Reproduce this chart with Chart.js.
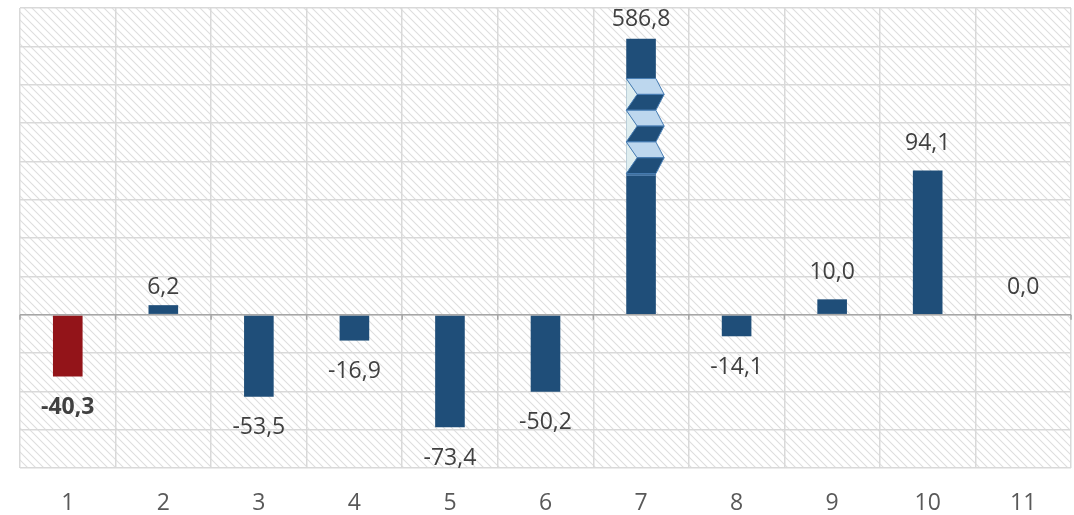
<!DOCTYPE html>
<html>
<head>
<meta charset="utf-8">
<script src="https://cdn.jsdelivr.net/npm/chart.js@4/dist/chart.umd.min.js"></script>
<style>
  html, body { margin: 0; padding: 0; background: #fff; }
  #wrap { width: 1074px; height: 515px; }
</style>
</head>
<body>
<div id="wrap"><canvas id="chart" width="1074" height="515"></canvas></div>
<script>
// Bar chart with a broken bar (value 7 is far off the scale)

const categories = ['1', '2', '3', '4', '5', '6', '7', '8', '9', '10', '11'];
const values = [-40.3, 6.2, -53.5, -16.9, -73.4, -50.2, 586.8, -14.1, 10.0, 94.1, 0.0];
const barColors = ['#931419', '#1f4e79', '#1f4e79', '#1f4e79', '#1f4e79', '#1f4e79', '#1f4e79', '#1f4e79', '#1f4e79', '#1f4e79', '#1f4e79'];
const boldLabels = [true, false, false, false, false, false, false, false, false, false, false];

const Y_MIN = -100;
const Y_MAX = 200;
const Y_STEP = 25;
const AXIS_CAP = 180;      // bars taller than this are cut with a break mark
const BREAK_TOP = 154;
const BREAK_BOTTOM = 92;

const FONT = "'Open Sans', 'Noto Sans', sans-serif";
// label 2 sits a little lower in the original
const LABEL_NUDGE = { 1: 9 };

const plotted = values.map(v => Math.min(v, AXIS_CAP));
const fmt = v => v.toFixed(1).replace('.', ',');

function makeHatch() {
  const c = document.createElement('canvas');
  c.width = 8; c.height = 8;
  const g = c.getContext('2d');
  g.fillStyle = '#fff';
  g.fillRect(0, 0, 8, 8);
  g.strokeStyle = '#dedede';
  g.lineWidth = 1.1;
  g.beginPath();
  for (const k of [-8, 0, 8]) { g.moveTo(k - 1, -1); g.lineTo(k + 9, 9); }
  g.stroke();
  return g.createPattern(c, 'repeat');
}

const hatchBackground = {
  id: 'hatchBackground',
  beforeDraw(chart) {
    const { ctx, chartArea: a } = chart;
    ctx.save();
    ctx.fillStyle = makeHatch();
    ctx.fillRect(a.left, a.top, a.right - a.left, a.bottom - a.top);
    ctx.restore();
  },
};

const zeroTicks = {
  id: 'zeroTicks',
  afterDatasetsDraw(chart) {
    const { ctx, chartArea: a, scales } = chart;
    const y0 = scales.y.getPixelForValue(0);
    const n = categories.length;
    const step = (a.right - a.left) / n;
    ctx.save();
    ctx.strokeStyle = '#a6a6a6';
    ctx.lineWidth = 1.5;
    ctx.beginPath();
    ctx.moveTo(a.left, y0); ctx.lineTo(a.right, y0);
    for (let i = 0; i <= n; i++) {
      const x = a.left + i * step;
      ctx.moveTo(x, y0); ctx.lineTo(x, y0 + 5);
    }
    ctx.stroke();
    ctx.restore();
  },
};

const barBreak = {
  id: 'barBreak',
  afterDatasetsDraw(chart) {
    const { ctx, scales } = chart;
    const bars = chart.getDatasetMeta(0).data;
    values.forEach((v, i) => {
      if (v <= AXIS_CAP) return;
      const bar = bars[i];
      const L = bar.x - bar.width / 2, R = bar.x + bar.width / 2;
      const w = R - L, tip = R + w * 0.28, mid = L + w * 0.37;
      const yTop = scales.y.getPixelForValue(BREAK_TOP);
      const yBot = scales.y.getPixelForValue(BREAK_BOTTOM);
      const h = (yBot - yTop) / 3;
      ctx.save();
      ctx.lineJoin = 'round';
      for (let k = 0; k < 3; k++) {
        const a = yTop + k * h, m = a + h / 2, b = a + h;
        ctx.fillStyle = '#deedef';
        ctx.beginPath(); ctx.moveTo(L, a); ctx.lineTo(mid, m); ctx.lineTo(L, b); ctx.closePath(); ctx.fill();
        ctx.fillStyle = '#bdd7ee';
        ctx.strokeStyle = '#4a7fb5';
        ctx.lineWidth = 1;
        ctx.beginPath(); ctx.moveTo(L, a); ctx.lineTo(R, a); ctx.lineTo(tip, m); ctx.lineTo(mid, m); ctx.closePath();
        ctx.fill(); ctx.stroke();
        ctx.fillStyle = barColors[i];
        ctx.beginPath(); ctx.moveTo(mid, m); ctx.lineTo(tip, m); ctx.lineTo(R, b); ctx.lineTo(L, b); ctx.closePath();
        ctx.fill(); ctx.stroke();
      }
      ctx.strokeStyle = '#6f9ccc';
      ctx.beginPath(); ctx.moveTo(L, yBot + 1.5); ctx.lineTo(R, yBot + 1.5); ctx.stroke();
      ctx.restore();
    });
  },
};

const valueLabels = {
  id: 'valueLabels',
  afterDatasetsDraw(chart) {
    const { ctx, scales } = chart;
    const bars = chart.getDatasetMeta(0).data;
    const y0 = scales.y.getPixelForValue(0);
    ctx.save();
    ctx.textAlign = 'center';
    ctx.textBaseline = 'middle';
    ctx.fillStyle = '#404040';
    values.forEach((v, i) => {
      const bar = bars[i];
      let y;
      if (v >= 0) y = Math.max(Math.min(bar.y, y0) - 27, 19);
      else y = bar.y + 31;
      y += LABEL_NUDGE[i] || 0;
      ctx.font = (boldLabels[i] ? 'bold ' : '') + '23px ' + FONT;
      ctx.fillText(fmt(v), bar.x, y);
    });
    ctx.restore();
  },
};

new Chart(document.getElementById('chart'), {
  type: 'bar',
  data: {
    labels: categories,
    datasets: [{
      data: plotted,
      backgroundColor: barColors,
      borderWidth: 0,
      barPercentage: 0.31,
      categoryPercentage: 1,
    }],
  },
  options: {
    responsive: false,
    devicePixelRatio: 1,
    animation: false,
    layout: { padding: { left: 20, right: 3, top: 8, bottom: 0 } },
    plugins: { legend: { display: false }, tooltip: { enabled: false } },
    scales: {
      x: {
        afterFit: s => { s.height = 47; },
        grid: { offset: true, color: '#d9d9d9', lineWidth: 1.5, drawTicks: false },
        border: { display: false },
        ticks: { color: '#595959', font: { family: FONT, size: 23 }, padding: 22 },
      },
      y: {
        min: Y_MIN,
        max: Y_MAX,
        afterFit: s => { s.width = 0; },
        grid: { color: '#d9d9d9', lineWidth: 1.5, drawTicks: false },
        border: { display: false },
        ticks: { display: false, stepSize: Y_STEP },
      },
    },
  },
  plugins: [hatchBackground, zeroTicks, barBreak, valueLabels],
});
</script>
</body>
</html>
